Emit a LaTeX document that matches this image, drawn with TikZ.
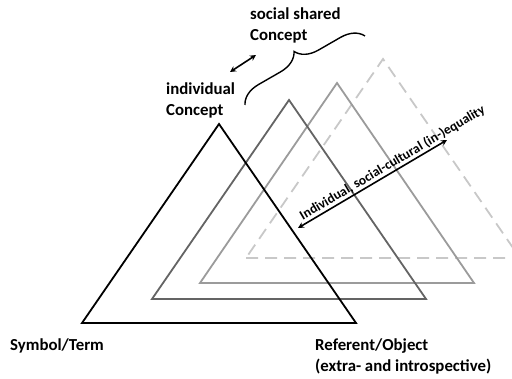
\documentclass[tikz,border=0pt]{standalone}
\usepackage{fontspec}
\setmainfont{Carlito}
\usetikzlibrary{arrows.meta, decorations.pathreplacing}
\definecolor{grayb}{RGB}{100,100,100}
\definecolor{grayc}{RGB}{155,155,155}
\definecolor{grayd}{RGB}{200,200,200}

\begin{document}
\begin{tikzpicture}[x=1pt, y=-1pt,
       tri/.style={line width=1.8pt, line join=miter},
       lbl/.style={font=\fontsize{16.8}{21}\selectfont\bfseries, inner sep=0pt, align=left, anchor=west},
       <->/.style={{Stealth[length=6pt, width=6pt]}-{Stealth[length=6pt, width=6pt]}, line width=1.6pt}]
     \useasboundingbox (0,0) rectangle (512,379);
     % triangles, back to front
     \draw [tri, grayd, dash pattern=on 12pt off 7pt] (246,258) -- (520,258) -- (383,59) -- cycle;
     \draw [tri, grayc] (200,283) -- (474,283) -- (337,83) -- cycle;
     \draw [tri, grayb] (152,299) -- (426,299) -- (289,100) -- cycle;
     \draw [tri, black] (82,323) -- (356,323) -- (219,124) -- cycle;
     % labels
     \node[lbl] (shared) at (250,25) {social shared\\Concept};
     \node[lbl] (indiv) at (166,100) {individual\\Concept};
     \node[lbl] (symbol) at (10,346) {Symbol/Term};
     \node[lbl] (referent) at (315,356) {Referent/Object\\(extra- and introspective)};
     % arrows and brace
     \coordinate (a1) at (230,72);
     \coordinate (a2) at (256,55);
     \draw [<->] (a1) to (a2);
     \coordinate (ineqlow) at (298,228);
     \coordinate (ineqhigh) at (447,140);
     \draw [<->] (ineqlow) to node[sloped, above, pos=0.66, inner sep=1pt,
       font=\fontsize{13.5}{15}\selectfont\bfseries] (ineq) {Individual, social-cultural (in-)equality} (ineqhigh);
     \coordinate (br1) at (245,105);
     \coordinate (br2) at (365,36);
     \draw [line width=1.4pt, decorate, decoration={brace, amplitude=22pt}] (br1) to (br2);
\end{tikzpicture}
\end{document}
